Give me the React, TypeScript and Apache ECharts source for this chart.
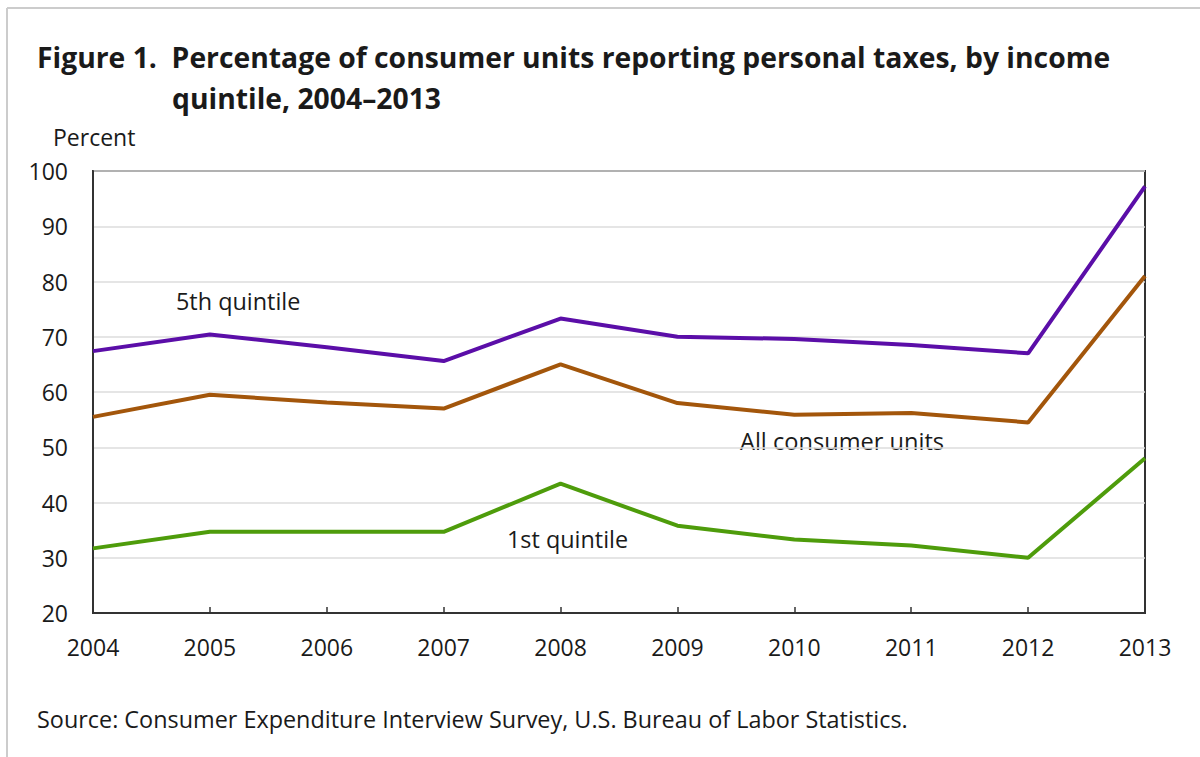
import React, { useEffect, useRef } from "react";
import * as echarts from "echarts";

const years = ["2004", "2005", "2006", "2007", "2008", "2009", "2010", "2011", "2012", "2013"];
const fifthQuintile = [67.4, 70.4, 68.1, 65.6, 73.3, 70.0, 69.6, 68.5, 67.0, 97.2];
const allConsumerUnits = [55.5, 59.5, 58.1, 57.0, 65.0, 58.0, 55.9, 56.2, 54.5, 81.0];
const firstQuintile = [31.7, 34.7, 34.7, 34.7, 43.4, 35.8, 33.3, 32.2, 30.0, 48.0];
const yTicks = { min: 20, max: 100, interval: 10 };

const FONT = "'Open Sans', 'Noto Sans', sans-serif";

export default function App() {
  const ref = useRef<HTMLDivElement>(null);
  useEffect(() => {
    if (!ref.current) return;
    const chart = echarts.init(ref.current, null, { renderer: "svg" });
    const lineStyle = (color: string) => ({ color, width: 4 });
    const label = (text: string, x: number, y: number, size = 23, weight = "normal") => ({
      type: "text",
      x,
      y,
      style: {
        text,
        font: `${weight} ${size}px ${FONT}`,
        fill: "#1a1a1a",
        verticalAlign: "middle",
        align: "left",
      },
    });
    chart.setOption({
      animation: false,
      backgroundColor: "#ffffff",
      textStyle: { fontFamily: FONT },
      grid: {
        left: 93,
        top: 171,
        right: 55,
        bottom: 144,
        show: true,
        borderColor: "#333333",
        borderWidth: 2,
        backgroundColor: "transparent",
      },
      xAxis: {
        type: "category",
        data: years,
        boundaryGap: false,
        axisLine: { lineStyle: { color: "#333333", width: 2 } },
        axisTick: { inside: true, length: 6, lineStyle: { color: "#333333", width: 1.5 } },
        axisLabel: { color: "#1a1a1a", fontSize: 23, margin: 22, fontFamily: FONT },
        splitLine: { show: false },
      },
      yAxis: {
        type: "value",
        min: yTicks.min,
        max: yTicks.max,
        interval: yTicks.interval,
        axisLine: { show: true, lineStyle: { color: "#333333", width: 2 } },
        axisTick: { show: false },
        axisLabel: { color: "#1a1a1a", fontSize: 23, margin: 25, fontFamily: FONT },
        splitLine: { lineStyle: { color: "#dddddd", width: 1.5 } },
      },
      series: [
        { name: "5th quintile", type: "line", data: fifthQuintile, symbol: "none", lineStyle: lineStyle("#5b0ea8"), z: 3 },
        { name: "All consumer units", type: "line", data: allConsumerUnits, symbol: "none", lineStyle: lineStyle("#a3560b"), z: 3 },
        { name: "1st quintile", type: "line", data: firstQuintile, symbol: "none", lineStyle: lineStyle("#4e9c0b"), z: 3 },
      ],
      graphic: [
        { type: "line", shape: { x1: 7, y1: 8, x2: 1200, y2: 8 }, style: { stroke: "#cccccc", lineWidth: 2 } },
        { type: "line", shape: { x1: 7, y1: 8, x2: 7, y2: 757 }, style: { stroke: "#cccccc", lineWidth: 2 } },
        label("Figure 1.  Percentage of consumer units reporting personal taxes, by income", 37, 57, 28.3, "bold"),
        label("quintile, 2004–2013", 172, 98, 28.3, "bold"),
        label("Percent", 53, 137),
        label("5th quintile", 176, 301, 23.4),
        label("All consumer units", 740, 441, 23.6),
        label("1st quintile", 507, 539, 23.4),
        label("Source: Consumer Expenditure Interview Survey, U.S. Bureau of Labor Statistics.", 37, 719, 23.4),
      ],
    });
    return () => chart.dispose();
  }, []);
  return <div ref={ref} style={{ position: "absolute", left: 0, top: 0, width: 1200, height: 757 }} />;
}
